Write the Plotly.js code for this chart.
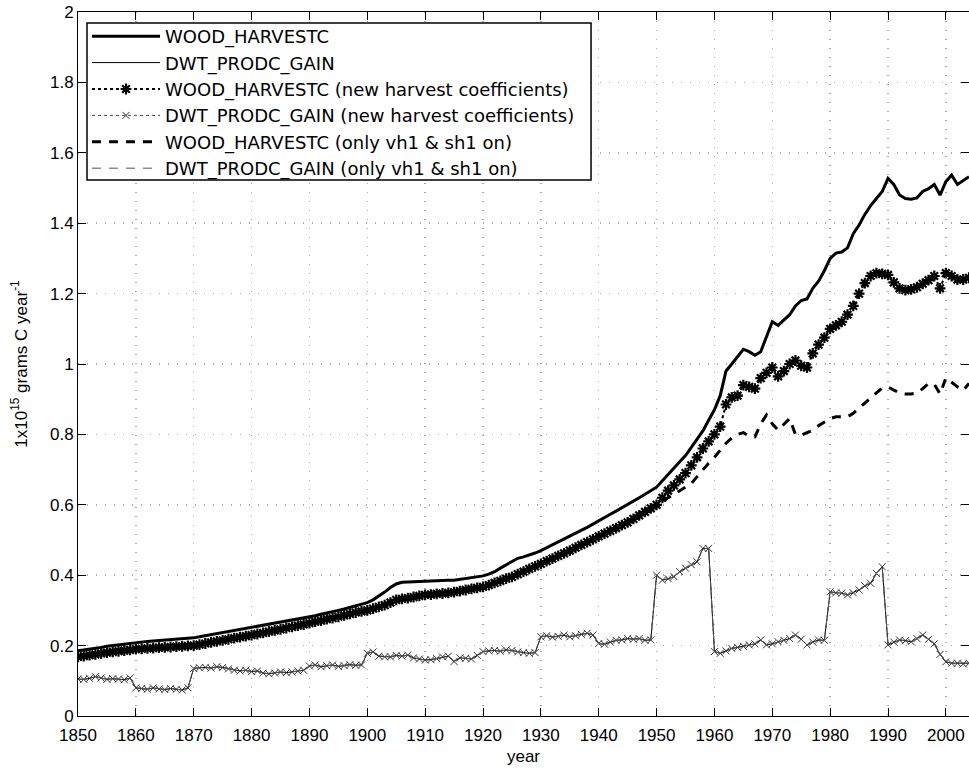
<!DOCTYPE html>
<html>
<head>
<meta charset="utf-8">
<script src="https://cdn.plot.ly/plotly-3.0.1.min.js"></script>
<style>html,body{margin:0;padding:0;background:#fff;}#chart{width:969px;height:772px;}</style>
</head>
<body>
<div id="chart"></div>
<script>
// Years 1850..2004
const years = [];
for (let y = 1850; y <= 2004; y++) years.push(y);

// WOOD_HARVESTC (baseline)
const woodHarvest = [
0.185,0.187,0.190,0.192,0.195,0.198,0.200,0.203,0.205,0.208,
0.210,0.211,0.212,0.213,0.214,0.215,0.216,0.217,0.219,0.220,
0.222,0.225,0.228,0.230,0.233,0.236,0.239,0.242,0.245,0.247,
0.250,0.253,0.256,0.260,0.263,0.266,0.269,0.272,0.275,0.279,
0.282,0.285,0.289,0.292,0.296,0.300,0.304,0.308,0.312,0.317,
0.322,0.330,0.340,0.352,0.365,0.375,0.380,0.381,0.382,0.383,
0.384,0.384,0.385,0.385,0.386,0.386,0.388,0.390,0.392,0.395,
0.398,0.403,0.410,0.420,0.430,0.440,0.448,0.452,0.457,0.463,
0.470,0.478,0.486,0.494,0.502,0.510,0.518,0.527,0.536,0.545,
0.555,0.564,0.573,0.582,0.591,0.600,0.610,0.620,0.630,0.640,
0.650,0.668,0.685,0.703,0.722,0.740,0.763,0.786,0.810,0.840,
0.870,0.910,0.980,1.000,1.020,1.042,1.035,1.025,1.035,1.080,
1.120,1.110,1.125,1.140,1.165,1.180,1.185,1.215,1.235,1.265,
1.300,1.315,1.318,1.330,1.370,1.395,1.425,1.450,1.470,1.490,
1.527,1.510,1.480,1.470,1.468,1.472,1.490,1.498,1.510,1.480,
1.518,1.537,1.510,1.520,1.532];

// DWT_PRODC_GAIN (same in all three runs)
const dwtProdc = [
0.105,0.104,0.107,0.112,0.108,0.104,0.106,0.105,0.103,0.108,
0.080,0.078,0.076,0.080,0.077,0.075,0.078,0.076,0.074,0.080,
0.135,0.137,0.138,0.136,0.140,0.138,0.134,0.130,0.128,0.130,
0.126,0.128,0.122,0.120,0.122,0.125,0.123,0.125,0.128,0.130,
0.142,0.145,0.140,0.143,0.145,0.141,0.143,0.146,0.144,0.145,
0.178,0.182,0.170,0.168,0.168,0.172,0.170,0.173,0.165,0.162,
0.159,0.160,0.163,0.168,0.170,0.155,0.165,0.164,0.162,0.172,
0.183,0.185,0.186,0.184,0.188,0.186,0.182,0.180,0.178,0.180,
0.225,0.228,0.224,0.226,0.230,0.225,0.228,0.232,0.235,0.230,
0.206,0.204,0.210,0.215,0.216,0.220,0.218,0.220,0.215,0.216,
0.400,0.386,0.390,0.396,0.410,0.420,0.430,0.438,0.476,0.476,
0.183,0.178,0.185,0.192,0.195,0.198,0.202,0.205,0.216,0.202,
0.205,0.211,0.215,0.220,0.230,0.218,0.202,0.210,0.216,0.215,
0.353,0.350,0.349,0.344,0.350,0.358,0.370,0.377,0.405,0.424,
0.202,0.210,0.216,0.214,0.211,0.220,0.230,0.218,0.205,0.175,
0.154,0.150,0.150,0.148,0.150];

// WOOD_HARVESTC (new harvest coefficients)
const woodHarvestNew = [
0.168,0.170,0.173,0.175,0.178,0.180,0.182,0.184,0.186,0.188,
0.190,0.191,0.192,0.193,0.194,0.195,0.196,0.197,0.198,0.199,
0.200,0.203,0.206,0.209,0.212,0.215,0.218,0.221,0.224,0.227,
0.230,0.233,0.236,0.240,0.243,0.246,0.250,0.253,0.257,0.260,
0.264,0.268,0.271,0.275,0.278,0.282,0.286,0.290,0.294,0.297,
0.300,0.305,0.310,0.315,0.322,0.330,0.333,0.335,0.338,0.341,
0.344,0.345,0.347,0.348,0.350,0.352,0.355,0.358,0.361,0.364,
0.367,0.372,0.378,0.384,0.390,0.395,0.403,0.410,0.418,0.425,
0.432,0.440,0.447,0.455,0.462,0.470,0.478,0.486,0.494,0.502,
0.510,0.518,0.526,0.534,0.542,0.550,0.560,0.570,0.580,0.590,
0.600,0.620,0.640,0.655,0.672,0.690,0.712,0.735,0.760,0.780,
0.800,0.822,0.885,0.905,0.910,0.940,0.935,0.930,0.960,0.975,
0.990,0.965,0.980,1.000,1.010,0.995,0.990,1.030,1.055,1.075,
1.100,1.110,1.120,1.140,1.165,1.200,1.230,1.250,1.258,1.256,
1.253,1.232,1.215,1.210,1.212,1.218,1.228,1.238,1.250,1.215,
1.258,1.250,1.240,1.240,1.245];

// WOOD_HARVESTC (only vh1 & sh1 on)
const woodHarvestVh1 = woodHarvestNew.slice(0, 101).concat([
0.610,0.620,0.630,0.640,0.648,0.660,0.680,0.700,0.718,
0.735,0.755,0.775,0.790,0.800,0.805,0.795,0.793,0.830,0.855,
0.830,0.812,0.830,0.845,0.800,0.798,0.805,0.812,0.825,0.835,
0.845,0.850,0.850,0.850,0.860,0.875,0.890,0.905,0.918,0.932,
0.935,0.926,0.918,0.915,0.915,0.918,0.930,0.945,0.942,0.915,
0.960,0.948,0.935,0.925,0.945]);

const xTicks = [1850,1860,1870,1880,1890,1900,1910,1920,1930,1940,1950,1960,1970,1980,1990,2000];
const yTicks = [0,0.2,0.4,0.6,0.8,1,1.2,1.4,1.6,1.8,2];
const yTickText = ['0','0.2','0.4','0.6','0.8','1','1.2','1.4','1.6','1.8','2'];

const FONT = 'Liberation Sans, Arial, sans-serif';
const LEGFONT = 'DejaVu Sans, Liberation Sans, sans-serif';

const traces = [
  {x: years, y: woodHarvest, name: 'WOOD_HARVESTC', mode: 'lines',
   line: {color: '#000', width: 3}},
  {x: years, y: dwtProdc, name: 'DWT_PRODC_GAIN', mode: 'lines',
   line: {color: '#000', width: 1}},
  {x: years, y: woodHarvestNew, name: 'WOOD_HARVESTC (new harvest coefficients)', mode: 'lines+markers',
   line: {color: '#000', width: 2, dash: 'dot'},
   marker: {symbol: 'asterisk-open', size: 9, color: '#000', line: {color: '#000', width: 2.2}}},
  {x: years, y: dwtProdc, name: 'DWT_PRODC_GAIN (new harvest coefficients)', mode: 'lines+markers',
   line: {color: '#444', width: 1, dash: 'dot'},
   marker: {symbol: 'x-thin-open', size: 7, color: '#333', line: {color: '#333', width: 1}}},
  {x: years, y: woodHarvestVh1, name: 'WOOD_HARVESTC (only vh1 & sh1 on)', mode: 'lines',
   line: {color: '#000', width: 3, dash: '9px,8px'}},
  {x: years, y: dwtProdc, name: 'DWT_PRODC_GAIN (only vh1 & sh1 on)', mode: 'lines',
   line: {color: '#555', width: 1, dash: '9px,8px'}}
];

const layout = {
  width: 969, height: 772,
  margin: {l: 78, r: 0, t: 12, b: 56, pad: 0},
  paper_bgcolor: '#fff', plot_bgcolor: '#fff',
  font: {family: FONT, size: 17, color: '#000'},
  showlegend: true,
  legend: {
    x: 0.0101, y: 0.9915, xanchor: 'left', yanchor: 'top',
    bgcolor: 'rgba(0,0,0,0)', borderwidth: 0,
    font: {family: LEGFONT, size: 18, color: '#000'},
    itemwidth: 68, traceorder: 'normal'
  },
  shapes: [{
    type: 'rect', xref: 'paper', yref: 'paper', layer: 'above',
    x0: 0.0101, x1: 0.5758, y0: 0.7614, y1: 0.9844,
    fillcolor: '#fff', line: {color: '#000', width: 1.5}
  }],
  xaxis: {
    range: [1850, 2004], tickvals: xTicks, ticktext: xTicks.map(String),
    ticks: 'inside', ticklen: 8, tickcolor: '#000', tickwidth: 1,
    showline: true, linecolor: '#000', linewidth: 1, mirror: 'ticks',
    showgrid: true, gridcolor: '#aaaaaa', griddash: '1px,8px', gridwidth: 1.5,
    zeroline: false, tickfont: {family: FONT, size: 17}, ticklabelstandoff: 4,
    title: {text: 'year', font: {family: FONT, size: 17}, standoff: 5}
  },
  yaxis: {
    range: [0, 2], tickvals: yTicks, ticktext: yTickText,
    ticks: 'inside', ticklen: 8, tickcolor: '#000', tickwidth: 1,
    showline: true, linecolor: '#000', linewidth: 1, mirror: 'ticks',
    showgrid: true, gridcolor: '#aaaaaa', griddash: '1px,8px', gridwidth: 1.5,
    zeroline: false, tickfont: {family: FONT, size: 17},
    title: {text: '1x10<sup>15</sup> grams C year<sup>-1</sup>', font: {family: FONT, size: 17}, standoff: 18}
  }
};

Plotly.newPlot('chart', traces, layout, {displayModeBar: false, staticPlot: true});
</script>
</body>
</html>
